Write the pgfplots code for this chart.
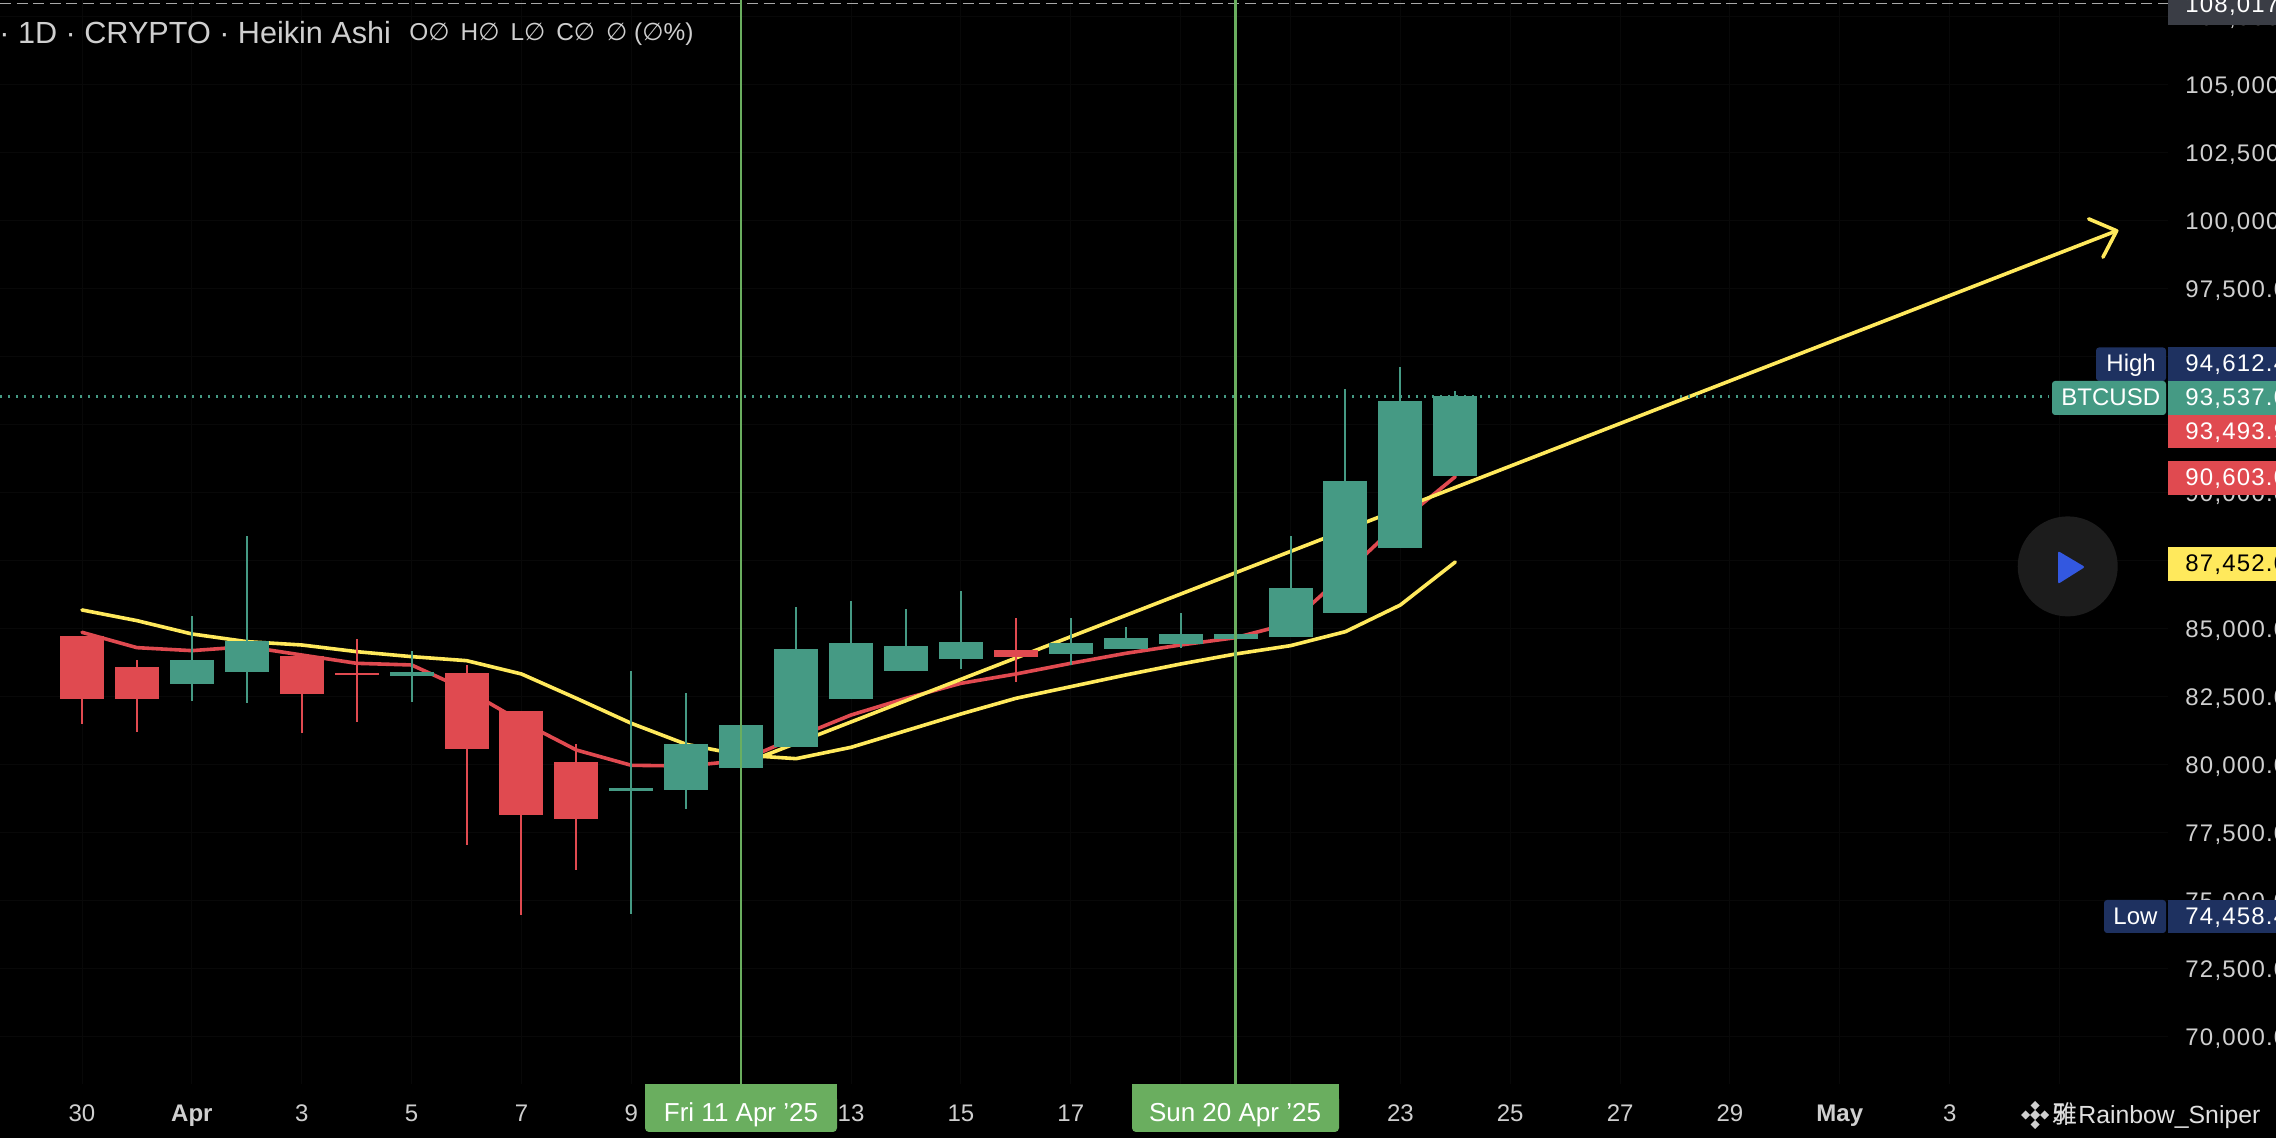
\documentclass[border=0pt]{standalone}
\usepackage{pgfplots}
\pgfplotsset{compat=1.18}
\usepackage{pgfplotstable}
\usepackage{fontspec}
\setmainfont{Liberation Sans}
\newfontfamily\cjk{Noto Sans CJK SC}
\newfontfamily\djv{DejaVu Sans}
\newfontfamily\pricefont[LetterSpace=5]{Liberation Sans}
\definecolor{cRed}{HTML}{E04A50}
\definecolor{cGreen}{HTML}{459A84}
\definecolor{cYellow}{HTML}{FFE95C}
\definecolor{cNavy}{HTML}{1E3160}
\definecolor{cV}{HTML}{6AAE5F}
\definecolor{cText}{HTML}{CFCFCF}
\definecolor{cGrid}{HTML}{080808}
\definecolor{cTop}{HTML}{3A3D45}
\definecolor{cCirc}{HTML}{1C1C1C}
\definecolor{cBlue}{HTML}{3358E0}
\definecolor{cDash}{HTML}{A8A8A8}

% d = days since 30 March
\pgfplotstableread{
d top bot high low
0 84732 82416 84732 81509
1 83592 82416 83849 81215
4 83997 82600 83997 81178
5 83372 83298 84609 81582
7 83372 80578 83666 77060
8 81975 78151 81975 74458
9 80100 78004 80761 76129
17 84217 83960 85393 83040
}\redcandles
\pgfplotstableread{
d top bot high low
2 83849 82967 85467 82342
3 84548 83408 88408 82281
6 83408 83261 84180 82318
10 79131 79033 83445 74511
11 80761 79070 82636 78371
12 81459 79879 81459 79879
13 84254 80651 85798 80651
14 84474 82415 86018 82415
15 84364 83445 85724 83445
16 84511 83886 86386 83518
18 84474 84070 85393 83665
19 84658 84254 85062 84254
20 84805 84438 85577 84290
21 84805 84621 84805 84621
22 86496 84695 88408 84695
23 90430 85577 93813 85577
24 93371 87967 94612 87967
25 93537 90603 93739 90603
}\greencandles

\newcommand{\lpill}[5]{%
  \fill[#1,rounded corners=1.5pt] (#2,#3) rectangle (#4,#5);
}
\newcommand{\pval}[3]{\node[anchor=base west,inner sep=0pt,#1,font=\pricefont\fontsize{12}{14}\selectfont] at (2185,#2) {#3};}
\begin{document}
\begin{tikzpicture}
\path[use as bounding box] (0,0) rectangle (1138pt,569pt);
\clip (0,0) rectangle (1138pt,569pt);
\fill[black] (0,0) rectangle (1138pt,569pt);
\begin{axis}[
  at={(0pt,27pt)}, anchor=south west,
  scale only axis, width=1084pt, height=542pt,
  xmin=-1.4928, xmax=37.975, ymin=68261.2, ymax=108114,
  axis line style={draw=none},
  major tick length=0pt,
  grid=major, grid style={cGrid,line width=0.5pt},
  xtick={0,2,4,6,8,10,12,14,16,18,20,22,24,26,28,30,32,34,36},
  xticklabels={30,\textbf{Apr},3,5,7,9,11,13,15,17,19,21,23,25,27,29,\textbf{May},3,5},
  ytick={70000,72500,75000,77500,80000,82500,85000,87500,90000,92500,95000,97500,100000,102500,105000,107500},
  yticklabel pos=right,
  scaled y ticks=false,
  xticklabel style={font=\fontsize{12}{14}\selectfont,text=cText,anchor=base,inner sep=0pt,yshift=-18.8pt},
  yticklabel style={font=\pricefont\fontsize{12}{14}\selectfont,text=cText,anchor=west,inner sep=0pt,xshift=8.5pt,yshift=-1pt,
    /pgf/number format/.cd,fixed,fixed zerofill,precision=1,1000 sep={,},assume math mode=true},
  clip=true,
]
% top dashed line
\addplot[cDash,line width=0.7pt,dash pattern=on 5.5pt off 2.8pt] coordinates {(-1.4928,107990) (37.975,107990)};
% moving averages
\addplot[cRed,line width=1.8pt,line join=round,line cap=round] coordinates {
(0,84867)(1,84303)(2,84193)(3,84340)(4,84033)(5,83727)(6,83666)(7,82747)(8,81582)(9,80540)(10,79977)(11,79953)(12,80148)(13,81006)(14,81827)(15,82440)(16,82991)(17,83334)(18,83727)(19,84094)(20,84401)(21,84670)(22,85197)(23,87036)(24,88935)(25,90590)};
\addplot[cYellow,line width=1.8pt,line join=round,line cap=round] coordinates {
(0,85688)(1,85296)(2,84806)(3,84524)(4,84401)(5,84156)(6,83972)(7,83825)(8,83335)(9,82440)(10,81521)(11,80749)(12,80356)(13,80222)(14,80639)(15,81251)(16,81864)(17,82440)(18,82869)(19,83298)(20,83702)(21,84070)(22,84376)(23,84891)(24,85871)(25,87452)};
% trend arrow
\addplot[cYellow,line width=1.8pt,line cap=round] coordinates {(12.37,80294)(37.04,99628)};
\addplot[cYellow,line width=1.8pt,line cap=round,line join=round] coordinates {(36.53,100066)(37.04,99628)(36.79,98658)};
% wicks
\addplot[draw=none,mark=none,forget plot,error bars/.cd,y dir=both,y explicit,error mark=none,error bar style={line width=1pt,draw=cRed}]
  table[x=d,y=top,y error plus expr=\thisrow{high}-\thisrow{top},y error minus expr=\thisrow{top}-\thisrow{low}] {\redcandles};
\addplot[draw=none,mark=none,forget plot,error bars/.cd,y dir=both,y explicit,error mark=none,error bar style={line width=1pt,draw=cGreen}]
  table[x=d,y=top,y error plus expr=\thisrow{high}-\thisrow{top},y error minus expr=\thisrow{top}-\thisrow{low}] {\greencandles};
% bodies
\addplot[draw=none,mark=none,forget plot,error bars/.cd,y dir=minus,y explicit,error mark=none,error bar style={line width=22pt,draw=cRed}]
  table[x=d,y=top,y error minus expr=\thisrow{top}-\thisrow{bot}] {\redcandles};
\addplot[draw=none,mark=none,forget plot,error bars/.cd,y dir=minus,y explicit,error mark=none,error bar style={line width=22pt,draw=cGreen}]
  table[x=d,y=top,y error minus expr=\thisrow{top}-\thisrow{bot}] {\greencandles};
% last price
\addplot[cGreen,line width=1.1pt,dash pattern=on 1.2pt off 2.8pt] coordinates {(-1.4928,93537)(35.8,93537)};
% marked dates
\addplot[cV,line width=1.1pt] coordinates {(12,68261.2)(12,108114)};
\addplot[cV,line width=1.1pt] coordinates {(21,68261.2)(21,108114)};
\end{axis}
\begin{scope}[shift={(0,569pt)},x=0.5pt,y=-0.5pt]
% header
\node[anchor=base west,inner sep=0pt,text=cText,font=\fontsize{15.3}{18}\selectfont] at (-1,44) {· 1D · CRYPTO · Heikin Ashi};
\node[anchor=base west,inner sep=0pt,text=cText,font=\fontsize{12.2}{14}\selectfont] at (409,41) {O{\djv∅}\hspace{5.5pt}H{\djv∅}\hspace{5.5pt}L{\djv∅}\hspace{5.5pt}C{\djv∅}\hspace{5.5pt}{\djv∅} ({\djv∅}\%)};
% pills on the price scale
\fill[cTop] (2168,0) rectangle (2276,25);
\pval{white}{13}{108,017.0}
\lpill{cNavy}{2096}{347.5}{2166}{381}
\fill[cNavy] (2168,347.5) rectangle (2276,381);
\node[anchor=base west,inner sep=0pt,white,font=\fontsize{12}{14}\selectfont] at (2106,372) {High};
\pval{white}{372}{94,612.4}
\lpill{cGreen}{2052}{381}{2166}{415}
\fill[cGreen] (2168,381) rectangle (2276,415);
\node[anchor=base west,inner sep=0pt,white,font=\fontsize{12}{14}\selectfont] at (2061,406) {BTCUSD};
\pval{white}{406}{93,537.0}
\fill[cRed] (2168,415) rectangle (2276,448.5);
\pval{white}{440}{93,493.9}
\fill[cRed] (2168,461) rectangle (2276,495);
\pval{white}{486}{90,603.0}
\fill[cYellow] (2168,547) rectangle (2276,581);
\pval{black}{572}{87,452.0}
\lpill{cNavy}{2104}{900}{2166}{933}
\fill[cNavy] (2168,900) rectangle (2276,933);
\node[anchor=base west,inner sep=0pt,white,font=\fontsize{12}{14}\selectfont] at (2113,925) {Low};
\pval{white}{925}{74,458.4}
% play button
\fill[cCirc] (2067.7,566.4) circle (50);
\fill[cBlue,rounded corners=1pt] (2058,551) -- (2085,567) -- (2058,584) -- cycle;
% date pills
\fill[cV,rounded corners=2pt] (645,1095) rectangle (837,1132);
\fill[cV] (645,1084) rectangle (837,1110);
\node[anchor=base,inner sep=0pt,white,font=\fontsize{13}{14}\selectfont] at (741,1122) {Fri 11 Apr \symbol{39}25};
\fill[cV,rounded corners=2pt] (1132,1095) rectangle (1339,1132);
\fill[cV] (1132,1084) rectangle (1339,1110);
\node[anchor=base,inner sep=0pt,white,font=\fontsize{13}{14}\selectfont] at (1235,1122) {Sun 20 Apr \symbol{39}25};
% watermark
\foreach \cx/\cy/\r in {2035/1115/5,2035/1105.5/4.5,2035/1124.5/4.5,2025.5/1115/4.5,2044.5/1115/4.5}{
  \fill[cText] (\cx-\r,\cy) -- (\cx,\cy-\r) -- (\cx+\r,\cy) -- (\cx,\cy+\r) -- cycle;}
\node[anchor=base west,inner sep=0pt,text=white!88!black,font=\fontsize{12.5}{14}\selectfont] at (2052,1124) {\cjk 雅};
\node[anchor=base west,inner sep=0pt,text=white!88!black,font=\fontsize{12.4}{14}\selectfont] at (2078,1124) {Rainbow\_Sniper};
\end{scope}
\end{tikzpicture}
\end{document}
